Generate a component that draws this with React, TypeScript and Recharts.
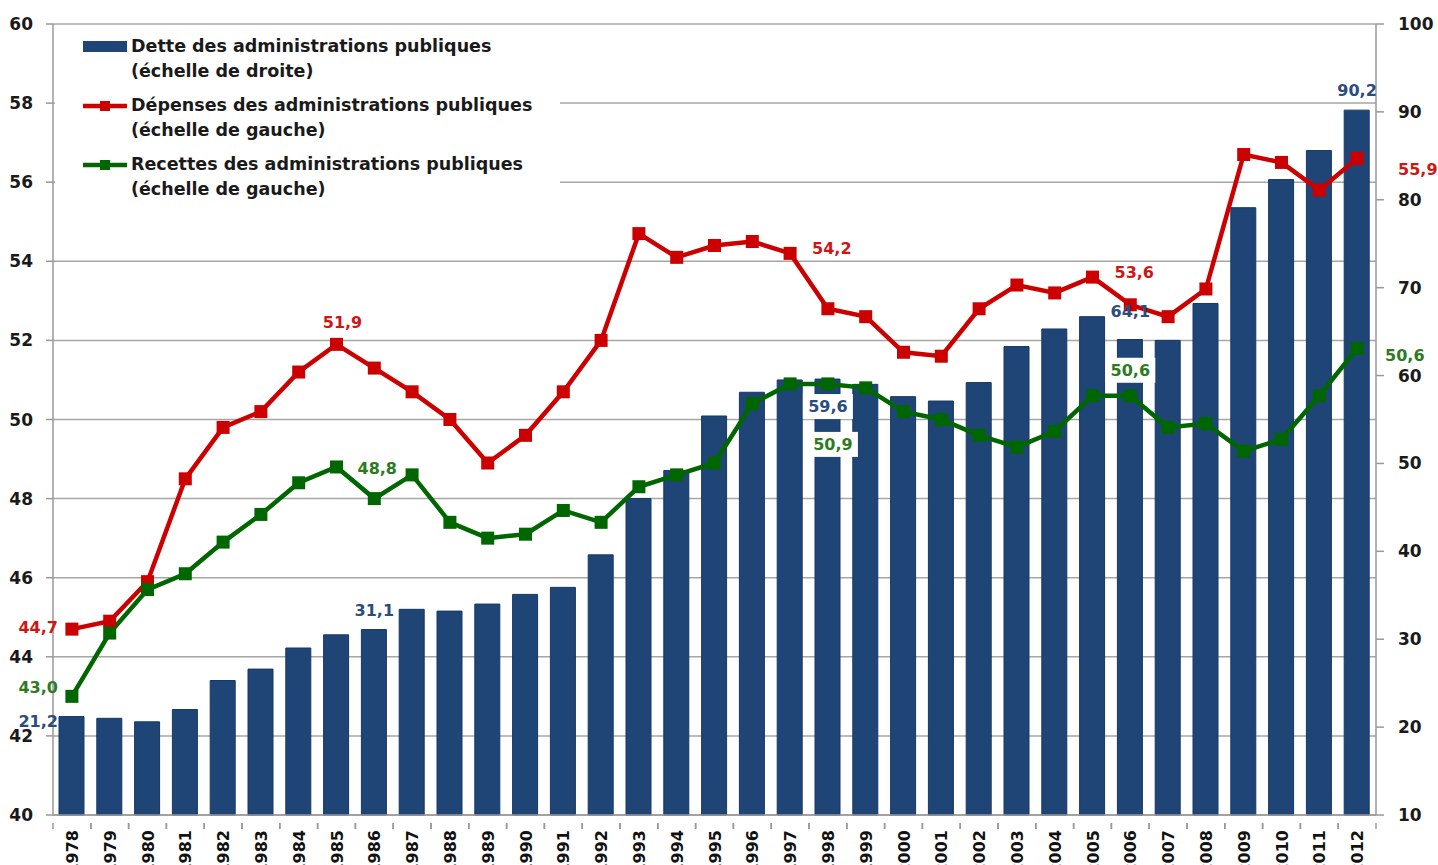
import { ComposedChart, Bar, Line, XAxis, YAxis, CartesianGrid, Legend, LabelList } from 'recharts';

const years = [
  1978, 1979, 1980, 1981, 1982, 1983, 1984, 1985, 1986, 1987, 1988, 1989,
  1990, 1991, 1992, 1993, 1994, 1995, 1996, 1997, 1998, 1999, 2000, 2001,
  2002, 2003, 2004, 2005, 2006, 2007, 2008, 2009, 2010, 2011, 2012,
];

// dette, % du PIB (échelle de droite)
const dette = [
  21.2, 21.0, 20.6, 22.0, 25.3, 26.6, 29.0, 30.5, 31.1, 33.4, 33.2, 34.0,
  35.1, 35.9, 39.6, 46.0, 49.2, 55.4, 58.1, 59.5, 59.6, 59.0, 57.6, 57.1,
  59.2, 63.3, 65.3, 66.7, 64.1, 64.0, 68.2, 79.1, 82.3, 85.6, 90.2,
];

// dépenses, % du PIB (échelle de gauche)
const depenses = [
  44.7, 44.9, 45.9, 48.5, 49.8, 50.2, 51.2, 51.9, 51.3, 50.7, 50.0, 48.9,
  49.6, 50.7, 52.0, 54.7, 54.1, 54.4, 54.5, 54.2, 52.8, 52.6, 51.7, 51.6,
  52.8, 53.4, 53.2, 53.6, 52.9, 52.6, 53.3, 56.7, 56.5, 55.8, 56.6,
];

// recettes, % du PIB (échelle de gauche)
const recettes = [
  43.0, 44.6, 45.7, 46.1, 46.9, 47.6, 48.4, 48.8, 48.0, 48.6, 47.4, 47.0,
  47.1, 47.7, 47.4, 48.3, 48.6, 48.9, 50.4, 50.9, 50.9, 50.8, 50.2, 50.0,
  49.6, 49.3, 49.7, 50.6, 50.6, 49.8, 49.9, 49.2, 49.5, 50.6, 51.8,
];

const leftTicks = [40, 42, 44, 46, 48, 50, 52, 54, 56, 58, 60];
const rightTicks = [10, 20, 30, 40, 50, 60, 70, 80, 90, 100];

// annotated values
const detteNotes: Record<number, string> = { 1978: '21,2', 1986: '31,1', 1998: '59,6', 2006: '64,1', 2012: '90,2' };
const depensesNotes: Record<number, string> = { 1978: '44,7', 1985: '51,9', 1997: '54,2', 2005: '53,6', 2012: '55,9' };
const recettesNotes: Record<number, string> = { 1978: '43,0', 1985: '48,8', 1998: '50,9', 2006: '50,6', 2012: '50,6' };

const legendItems = [
  { kind: 'bar', color: '#1F4577', lines: ['Dette des administrations publiques', '(échelle de droite)'] },
  { kind: 'line', color: '#CC0000', lines: ['Dépenses des administrations publiques', '(échelle de gauche)'] },
  { kind: 'line', color: '#006600', lines: ['Recettes des administrations publiques', '(échelle de gauche)'] },
];

const data = years.map((year, i) => ({
  year,
  dette: dette[i],
  depenses: depenses[i],
  recettes: recettes[i],
}));

const W = 1438;
const H = 865;
const LEFT_W = 53;
const RIGHT_W = 62;
const TOP = 24;
const X_H = 50;
const BAND = (W - LEFT_W - RIGHT_W) / years.length;
const FONT = '"DejaVu Sans", Verdana, sans-serif';

const BLUE = '#1F4577';
const RED = '#CC0000';
const GREEN = '#006600';

type Place = { dx: number; dy: number; anchor: 'start' | 'middle' | 'end'; box?: boolean };

const dettePlace: Record<number, Place> = {
  1978: { dx: -14, dy: 10, anchor: 'end' },
  1986: { dx: 0, dy: -14, anchor: 'middle' },
  1998: { dx: 0, dy: 33, anchor: 'middle', box: true },
  2006: { dx: 0, dy: -23, anchor: 'middle' },
  2012: { dx: 0, dy: -14, anchor: 'middle' },
};
const depensesPlace: Record<number, Place> = {
  1978: { dx: -14, dy: 4, anchor: 'end' },
  1985: { dx: 6, dy: -16, anchor: 'middle' },
  1997: { dx: 22, dy: 1, anchor: 'start' },
  2005: { dx: 22, dy: 1, anchor: 'start' },
  2012: { dx: 41, dy: 17, anchor: 'start' },
};
const recettesPlace: Record<number, Place> = {
  1978: { dx: -14, dy: -3, anchor: 'end' },
  1985: { dx: 21, dy: 7, anchor: 'start' },
  1998: { dx: 5, dy: 66, anchor: 'middle', box: true },
  2006: { dx: 0, dy: -20, anchor: 'middle', box: true },
  2012: { dx: 28, dy: 13, anchor: 'start' },
};

function noteRenderer(notes: Record<number, string>, places: Record<number, Place>, color: string) {
  return (props: any) => {
    const { x, y, index } = props;
    const yr = years[index];
    const text = notes[yr];
    const p = places[yr];
    if (!text || !p || x == null || y == null) return null;
    const tx = x + p.dx;
    const ty = y + p.dy;
    const w = 46;
    const bx = p.anchor === 'middle' ? tx - w / 2 : p.anchor === 'end' ? tx - w : tx;
    return (
      <g key={`n-${color}-${yr}`}>
        {p.box && <rect x={bx - 2} y={ty - 18} width={w + 4} height={25} fill="#fff" />}
        <text x={tx} y={ty} textAnchor={p.anchor} fontFamily={FONT} fontWeight="bold" fontSize={16} fill={color}>
          {text}
        </text>
      </g>
    );
  };
}

const squareDot = (color: string) => (props: any) => {
  const { cx, cy, index } = props;
  if (cx == null || cy == null) return <g key={index} />;
  return <rect key={index} x={cx - 6.5} y={cy - 6.5} width={13} height={13} fill={color} />;
};

const YearTick = (props: any) => {
  const { x, y, payload } = props;
  return (
    <g>
      <line x1={x + BAND / 2} y1={y} x2={x + BAND / 2} y2={y + 6} stroke="#999" strokeWidth={1.5} />
      <line x1={x - BAND / 2} y1={y} x2={x - BAND / 2} y2={y + 6} stroke="#999" strokeWidth={1.5} />
      <text transform={`translate(${x + 6},${y + 7}) rotate(-90)`} textAnchor="end" fontFamily={FONT} fontWeight="bold" fontSize={16} fill="#111">
        {payload.value}
      </text>
    </g>
  );
};

const LegendBox = () => (
  <div style={{ background: '#fff', fontFamily: FONT, fontWeight: 'bold', fontSize: 17.5, color: '#1a1a1a', paddingTop: 6 }}>
    {legendItems.map((it, i) => (
      <div key={i} style={{ position: 'relative', paddingLeft: 76, lineHeight: '25px', marginBottom: 9 }}>
        <svg width={46} height={16} style={{ position: 'absolute', left: 28, top: 5 }}>
          {it.kind === 'bar' ? (
            <rect x={0} y={2} width={44} height={11} fill={it.color} />
          ) : (
            <g>
              <line x1={0} y1={8} x2={44} y2={8} stroke={it.color} strokeWidth={4.5} />
              <rect x={17} y={3} width={10} height={10} fill={it.color} />
            </g>
          )}
        </svg>
        {it.lines.map((l, j) => (
          <div key={j} style={{ whiteSpace: 'nowrap' }}>{l}</div>
        ))}
      </div>
    ))}
  </div>
);

export default function App() {
  return (
    <div style={{ position: 'absolute', left: 0, top: 0, width: W, height: H, background: '#fff' }}>
      <ComposedChart width={W} height={H} data={data} margin={{ top: TOP, right: 0, bottom: 0, left: 0 }}>
        <CartesianGrid yAxisId="left" vertical={false} stroke="#a6a6a6" strokeWidth={1.5} />
        <XAxis
          dataKey="year"
          height={X_H}
          interval={0}
          tickLine={false}
          axisLine={{ stroke: '#999', strokeWidth: 1.5 }}
          tick={<YearTick />}
        />
        <YAxis
          yAxisId="left"
          orientation="left"
          width={LEFT_W}
          domain={[40, 60]}
          ticks={leftTicks}
          interval={0}
          tickSize={7}
          tickMargin={13}
          axisLine={{ stroke: '#999', strokeWidth: 1.5 }}
          tickLine={{ stroke: '#999', strokeWidth: 1.5 }}
          tick={{ fontFamily: FONT, fontWeight: 'bold', fontSize: 17, fill: '#1a1a1a' }}
        />
        <YAxis
          yAxisId="right"
          orientation="right"
          width={RIGHT_W}
          domain={[10, 100]}
          ticks={rightTicks}
          interval={0}
          tickSize={8}
          tickMargin={14}
          axisLine={{ stroke: '#999', strokeWidth: 1.5 }}
          tickLine={{ stroke: '#999', strokeWidth: 1.5 }}
          tick={{ fontFamily: FONT, fontWeight: 'bold', fontSize: 17, fill: '#1a1a1a' }}
        />
        <Legend
          layout="vertical"
          align="center"
          verticalAlign="middle"
          content={<LegendBox />}
          wrapperStyle={{ left: 55, top: 28, width: 505, height: 172 }}
        />
        <Bar yAxisId="right" dataKey="dette" name="Dette" fill={BLUE} stroke="#173864" strokeWidth={1} barSize={25} isAnimationActive={false} />
        <Line
          yAxisId="left"
          dataKey="depenses"
          name="Dépenses"
          stroke={RED}
          strokeWidth={4.5}
          dot={squareDot(RED)}
          activeDot={false}
          isAnimationActive={false}
        />
        <Line
          yAxisId="left"
          dataKey="recettes"
          name="Recettes"
          stroke={GREEN}
          strokeWidth={4.5}
          dot={squareDot(GREEN)}
          activeDot={false}
          isAnimationActive={false}
        />
        {/* annotation layers drawn on top of every series */}
        <Line yAxisId="right" dataKey="dette" stroke="none" dot={false} activeDot={false} legendType="none" isAnimationActive={false}>
          <LabelList dataKey="dette" content={noteRenderer(detteNotes, dettePlace, '#2B4C7E')} />
        </Line>
        <Line yAxisId="left" dataKey="depenses" stroke="none" dot={false} activeDot={false} legendType="none" isAnimationActive={false}>
          <LabelList dataKey="depenses" content={noteRenderer(depensesNotes, depensesPlace, '#D01515')} />
        </Line>
        <Line yAxisId="left" dataKey="recettes" stroke="none" dot={false} activeDot={false} legendType="none" isAnimationActive={false}>
          <LabelList dataKey="recettes" content={noteRenderer(recettesNotes, recettesPlace, '#2E7A1E')} />
        </Line>
      </ComposedChart>
    </div>
  );
}
